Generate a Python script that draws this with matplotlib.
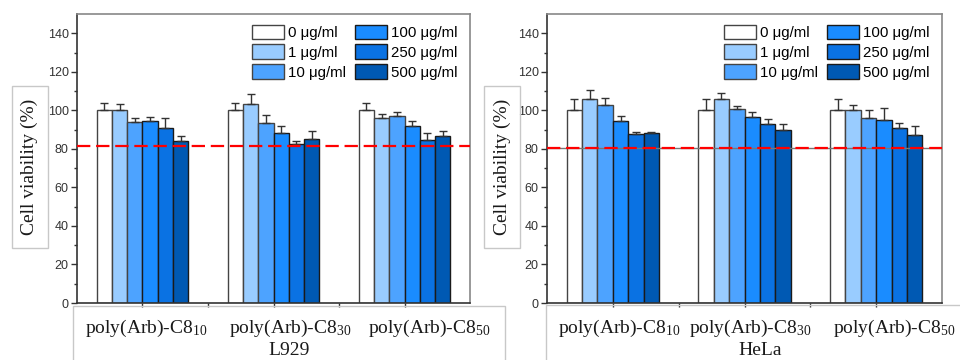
import matplotlib
matplotlib.use("Agg")
import matplotlib.pyplot as plt
from matplotlib.patches import Rectangle
import numpy as np

groups = ["poly(Arb)-C8$_{10}$", "poly(Arb)-C8$_{30}$", "poly(Arb)-C8$_{50}$"]
doses = ["0 μg/ml", "1 μg/ml", "10 μg/ml", "100 μg/ml", "250 μg/ml", "500 μg/ml"]
colors = ["#FFFFFF", "#99CCFF", "#4DA3FF", "#1A8CFF", "#0A72E3", "#0059B3"]

# rows: doses, cols: groups
l929_vals = [[100, 100, 100],
             [100, 103.5, 95.8],
             [93.8, 93.4, 96.9],
             [94.6, 88.0, 92.0],
             [90.8, 82.3, 84.4],
             [84.0, 84.9, 86.8]]
l929_err = [[4.0, 4.0, 4.0],
            [3.1, 5.0, 2.1],
            [2.4, 4.3, 2.2],
            [2.1, 4.0, 2.3],
            [5.4, 1.9, 3.8],
            [2.8, 4.5, 2.3]]
hela_vals = [[100, 100, 100],
             [105.7, 105.9, 100],
             [102.8, 100.7, 95.8],
             [94.4, 96.5, 95.0],
             [87.8, 92.7, 90.8],
             [88.2, 89.9, 87.3]]
hela_err = [[5.9, 5.9, 5.9],
            [4.7, 3.1, 2.8],
            [3.5, 1.4, 4.5],
            [2.6, 2.8, 6.2],
            [0.7, 2.8, 2.8],
            [0.4, 3.0, 4.5]]
l929_thresh = 81.3
hela_thresh = 80.6
cell_lines = ["L929", "HeLa"]

plt.rcParams["font.family"] = ["Liberation Sans", "DejaVu Sans"]
plt.rcParams["mathtext.default"] = "regular"

fig = plt.figure(figsize=(9.6, 3.6), dpi=100)
ax1 = fig.add_axes([0.0802, 0.1583, 0.4094, 0.8028])
ax2 = fig.add_axes([0.5698, 0.1583, 0.4115, 0.8028])

serif = ["Liberation Serif", "DejaVu Serif"]
label_offsets = {0: [0.025, 0.13, 0.19], 1: [0.05, 0.04, 0.135]}

x = np.arange(1, len(groups) + 1)
width = 0.7 / len(doses)

for k, (ax, vals, errs, thr, cl) in enumerate(zip(
        [ax1, ax2], [l929_vals, hela_vals], [l929_err, hela_err],
        [l929_thresh, hela_thresh], cell_lines)):
    for i, (v, e, c) in enumerate(zip(vals, errs, colors)):
        pos = x - 0.35 + width * (i + 0.5)
        ec = "#444444" if i < 3 else "#1a1a1a"
        ax.bar(pos, v, width=width, color=c, edgecolor=ec, linewidth=1.0,
               label=doses[i], zorder=2)
        ax.errorbar(pos, v, yerr=[np.zeros(len(e)), e], fmt="none",
                    ecolor="#333333", elinewidth=1.0, capsize=3, capthick=1.0,
                    zorder=3)
    if k == 1:
        ax.axhline(thr, color="#777777", lw=1.0, zorder=3.5)
    ax.axhline(thr, color="#ff0000", lw=1.6, ls=(0, (6, 2.6)), zorder=4)
    ax.set_xlim(0.5, 3.5)
    ax.set_ylim(0, 150)
    ax.set_yticks(np.arange(0, 141, 20))
    ax.set_yticks(np.arange(10, 150, 20), minor=True)
    ax.set_xticks(x)
    ax.set_xticklabels([])
    ax.set_xticks([1.5, 2.5], minor=True)
    ax.tick_params(axis="y", which="major", direction="out", length=4,
                   width=1, colors="#333333", labelsize=9, pad=2)
    ax.tick_params(axis="y", which="minor", direction="out", length=2.5,
                   width=1, colors="#333333")
    ax.tick_params(axis="x", which="both", direction="out", length=3,
                   width=1, colors="#333333")
    for s in ["top", "right"]:
        ax.spines[s].set_color("#888888")
        ax.spines[s].set_linewidth(1.2)
    for s in ["left", "bottom"]:
        ax.spines[s].set_color("#333333")
        ax.spines[s].set_linewidth(1.2)
    for j, g in enumerate(groups):
        ax.text(x[j] + label_offsets[k][j], -13, g, ha="center", va="center",
                fontsize=14, family=serif, color="#1a1a1a",
                transform=ax.transData, clip_on=False)
    ax.text(0.54, -0.165, cl, ha="center", va="center", fontsize=14,
            family=serif, color="#1a1a1a", transform=ax.transAxes)
    ax.legend(loc="upper right", ncol=2, frameon=False, fontsize=10.8,
              handlelength=2.13, handleheight=1.07, labelspacing=0.32,
              columnspacing=0.55, handletextpad=0.3, borderaxespad=0.3,
              bbox_to_anchor=(0.995, 1.0))

# y label boxes and labels
for bx, cx in [(12, 29.5), (484, 502.5)]:
    fig.patches.append(Rectangle((bx / 960, 1 - 248 / 360), 36 / 960, 162 / 360,
                                 transform=fig.transFigure, fill=False,
                                 edgecolor="#c8c8c8", lw=1.0))
    fig.text(cx / 960, 1 - 167 / 360, "Cell viability (%)", rotation=90,
             ha="center", va="center", fontsize=14, family=serif,
             color="#1a1a1a")

# x label boxes
fig.patches.append(Rectangle((73 / 960, -0.05), 432 / 960, (0.05 + 1 - 306 / 360),
                             transform=fig.transFigure, fill=False,
                             edgecolor="#c8c8c8", lw=1.0))
fig.patches.append(Rectangle((546 / 960, -0.05), 420 / 960, (0.05 + 1 - 305 / 360),
                             transform=fig.transFigure, fill=False,
                             edgecolor="#c8c8c8", lw=1.0))

fig.savefig("out.png", dpi=100)
